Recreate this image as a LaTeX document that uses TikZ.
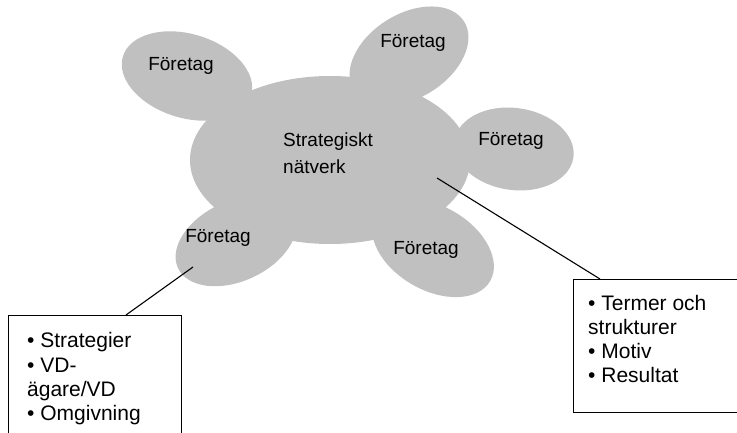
\documentclass[tikz,border=0pt]{standalone}
\usepackage{fontspec}
\setmainfont{Liberation Sans}
\definecolor{blobgray}{HTML}{C0C0C0}
\begin{document}
\begin{tikzpicture}[x=1pt,y=-1pt,
  blob/.style={fill=blobgray},
  firm/.style={font=\fontsize{19}{23}\selectfont, inner sep=0pt},
  hub/.style={font=\fontsize{19}{27}\selectfont, align=left, inner sep=0pt, anchor=west},
  notes/.style={font=\fontsize{21}{24.3}\selectfont, align=left, inner sep=0pt, anchor=west},
  leader/.style={draw=black, line width=1.1pt}]
\useasboundingbox (0,0) rectangle (737,433);
\clip (0,0) rectangle (737,433);

% the network: one central ellipse with five company lobes
\fill[blob] (330,160) ellipse [x radius=140pt, y radius=84pt];
\fill[blob, rotate around={-17:(187,76)}] (187,76) ellipse [x radius=67pt, y radius=42pt];
\fill[blob, rotate around={32:(409,56)}] (409,56) ellipse [x radius=65pt, y radius=42pt];
\fill[blob, rotate around={-8:(514,149)}] (514,149) ellipse [x radius=60pt, y radius=41pt];
\fill[blob, rotate around={-30:(433,248)}] (433,248) ellipse [x radius=66pt, y radius=42pt];
\fill[blob, rotate around={25:(236,241)}] (236,241) ellipse [x radius=64pt, y radius=40pt];

% labels
\node[hub] (net) at (283,153) {Strategiskt\\nätverk};
\node[firm] (f1) at (181,66) {Företag};
\node[firm] (f2) at (413,43) {Företag};
\node[firm] (f3) at (511,141) {Företag};
\node[firm] (f4) at (426,250) {Företag};
\node[firm] (f5) at (218,238) {Företag};

% note boxes, running off the lower and right edges
\draw[line width=1pt] (8,445) -- (8,315) -- (181,315) -- (181,445);
\draw[line width=1pt] (750,279) -- (573,279) -- (573,412) -- (750,412);
\node[notes] (lnote) at (27,379) {• Strategier\\• VD-\\ägare/VD\\• Omgivning};
\node[notes] (rnote) at (588,339) {• Termer och\\strukturer\\• Motiv\\• Resultat};

% leader lines from the network to the notes
\coordinate (lfrom) at (193,267);
\coordinate (lto) at (126,315);
\coordinate (rfrom) at (437,178);
\coordinate (rto) at (600,279);
\draw[leader] (lfrom) -- (lto);
\draw[leader] (rfrom) -- (rto);
\end{tikzpicture}
\end{document}
